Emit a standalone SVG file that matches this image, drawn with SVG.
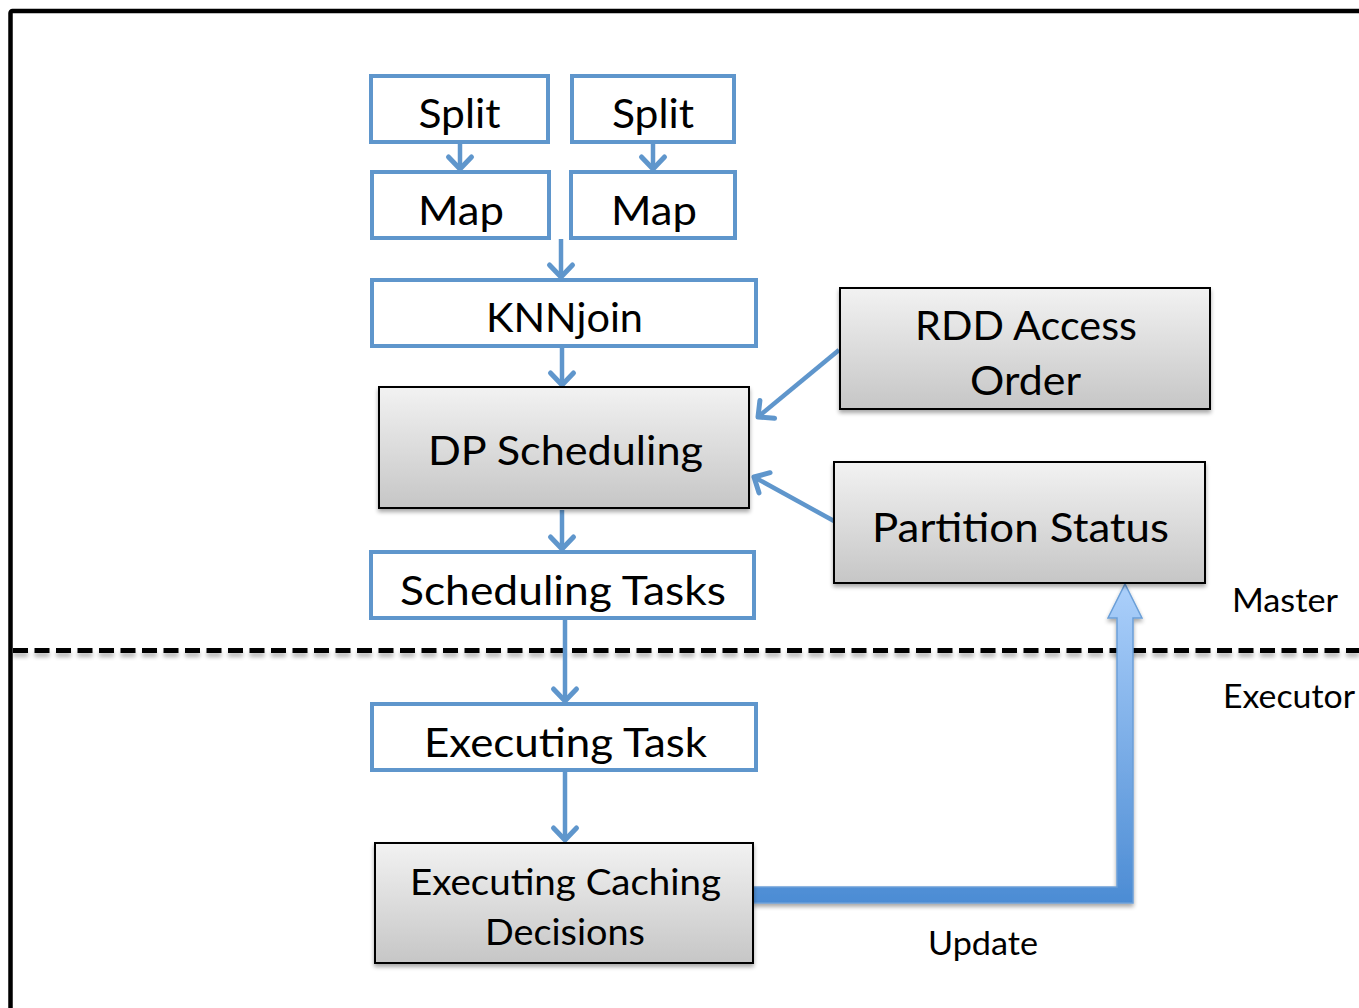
<svg xmlns="http://www.w3.org/2000/svg" width="1359" height="1008" viewBox="0 0 1359 1008">
  <defs>
    <style>
      .flow { fill: #ffffff; stroke: #5f96cc; stroke-width: 4; }
      .proc { fill: url(#grayFill); stroke: #000000; stroke-width: 2; filter: url(#shadow); }
      .lbl { font-family: Lato, "Open Sans", "Liberation Sans", sans-serif; font-size: 40px; fill: #000000; text-anchor: middle; }
      .side { font-family: Lato, "Open Sans", "Liberation Sans", sans-serif; font-size: 32px; fill: #000000; }
      .conn { fill: none; stroke: #5f96cc; stroke-width: 4.5; marker-end: url(#chev); }
    </style>
    <linearGradient id="grayFill" x1="0" y1="0" x2="0" y2="1">
      <stop offset="0" stop-color="#f2f2f2"/>
      <stop offset="1" stop-color="#c6c6c6"/>
    </linearGradient>
    <linearGradient id="updFill" gradientUnits="userSpaceOnUse" x1="0" y1="584" x2="0" y2="903">
      <stop offset="0" stop-color="#acd0fb"/>
      <stop offset="1" stop-color="#4c8cd4"/>
    </linearGradient>
    <filter id="shadow" x="-10%" y="-10%" width="120%" height="130%">
      <feGaussianBlur in="SourceAlpha" stdDeviation="2"/>
      <feOffset dx="0" dy="3" result="b"/>
      <feComponentTransfer><feFuncA type="linear" slope="0.35"/></feComponentTransfer>
      <feMerge><feMergeNode/><feMergeNode in="SourceGraphic"/></feMerge>
    </filter>
    <filter id="lineShadow" filterUnits="userSpaceOnUse" x="0" y="630" width="1359" height="40">
      <feGaussianBlur in="SourceAlpha" stdDeviation="2"/>
      <feOffset dx="0" dy="4" result="b"/>
      <feComponentTransfer><feFuncA type="linear" slope="0.3"/></feComponentTransfer>
      <feMerge><feMergeNode/><feMergeNode in="SourceGraphic"/></feMerge>
    </filter>
    <marker id="chev" markerUnits="userSpaceOnUse" markerWidth="32" markerHeight="32" viewBox="-16 -16 32 32" refX="0" refY="0" orient="auto">
      <path d="M -12 -11.5 L 0 0 L -12 11.5" fill="none" stroke="#5f96cc" stroke-width="5" stroke-linecap="round" stroke-linejoin="round"/>
    </marker>
  </defs>

  <rect width="1359" height="1008" fill="#ffffff"/>

  <!-- outer frame, open to the right and bottom -->
  <rect x="10.5" y="11" width="1400" height="1100" rx="2" fill="none" stroke="#000000" stroke-width="4.5"/>

  <!-- master / executor boundary -->
  <line x1="13" y1="650.5" x2="1359" y2="650.5" stroke="#000000" stroke-width="5" stroke-dasharray="15 6.5" filter="url(#lineShadow)"/>

  <!-- connectors -->
  <g id="connectors">
    <line class="conn" x1="460" y1="143" x2="460" y2="169"/>
    <line class="conn" x1="653" y1="143" x2="653" y2="169"/>
    <line class="conn" x1="561" y1="239" x2="561" y2="277"/>
    <line class="conn" x1="562" y1="347" x2="562" y2="385"/>
    <line class="conn" x1="839" y1="350" x2="758" y2="417"/>
    <line class="conn" x1="834" y1="521" x2="754" y2="477"/>
    <line class="conn" x1="562" y1="510" x2="562" y2="549"/>
    <line class="conn" x1="565" y1="620" x2="565" y2="701"/>
    <line class="conn" x1="565" y1="772" x2="565" y2="840"/>
    <g id="update-arrow">
      <polygon points="753,887 1117,887 1117,618 1108,618 1125,584 1142,618 1133,618 1133,903 753,903" fill="url(#updFill)" stroke="#6b9fd8" stroke-width="1.5" stroke-linejoin="miter" filter="url(#shadow)"/>
    </g>
  </g>

  <!-- nodes -->
  <g id="split-1">
    <rect class="flow" x="371" y="76" width="177" height="66"/>
    <text class="lbl" x="459.5" y="128" textLength="82" lengthAdjust="spacingAndGlyphs">Split</text>
  </g>
  <g id="split-2">
    <rect class="flow" x="572" y="76" width="162" height="66"/>
    <text class="lbl" x="653" y="128" textLength="82" lengthAdjust="spacingAndGlyphs">Split</text>
  </g>
  <g id="map-1">
    <rect class="flow" x="372" y="172" width="177" height="66"/>
    <text class="lbl" x="461" y="225" textLength="86" lengthAdjust="spacingAndGlyphs">Map</text>
  </g>
  <g id="map-2">
    <rect class="flow" x="571" y="172" width="164" height="66"/>
    <text class="lbl" x="654" y="225" textLength="86" lengthAdjust="spacingAndGlyphs">Map</text>
  </g>
  <g id="knnjoin">
    <rect class="flow" x="372" y="280" width="384" height="66"/>
    <text class="lbl" x="564.5" y="332" textLength="157" lengthAdjust="spacingAndGlyphs">KNNjoin</text>
  </g>
  <g id="dp-scheduling">
    <rect class="proc" x="379" y="387" width="370" height="121"/>
    <text class="lbl" x="565.5" y="465" textLength="275" lengthAdjust="spacingAndGlyphs">DP Scheduling</text>
  </g>
  <g id="rdd-access-order">
    <rect class="proc" x="840" y="288" width="370" height="121"/>
    <text class="lbl" x="1026" y="340" textLength="222" lengthAdjust="spacingAndGlyphs">RDD Access</text>
    <text class="lbl" x="1025.5" y="395" textLength="111" lengthAdjust="spacingAndGlyphs">Order</text>
  </g>
  <g id="partition-status">
    <rect class="proc" x="834" y="462" width="371" height="121"/>
    <text class="lbl" x="1020.5" y="542" textLength="297" lengthAdjust="spacingAndGlyphs">Partition Status</text>
  </g>
  <g id="scheduling-tasks">
    <rect class="flow" x="371" y="552" width="383" height="66"/>
    <text class="lbl" x="563" y="605" textLength="326" lengthAdjust="spacingAndGlyphs">Scheduling Tasks</text>
  </g>
  <g id="executing-task">
    <rect class="flow" x="372" y="704" width="384" height="66"/>
    <text class="lbl" x="565.5" y="757" textLength="283" lengthAdjust="spacingAndGlyphs">Executing Task</text>
  </g>
  <g id="executing-caching">
    <rect class="proc" x="375" y="843" width="378" height="120"/>
    <text class="lbl" x="565.5" y="895" textLength="311" lengthAdjust="spacingAndGlyphs" style="font-size:37px">Executing Caching</text>
    <text class="lbl" x="565" y="945" textLength="160" lengthAdjust="spacingAndGlyphs" style="font-size:37px">Decisions</text>
  </g>

  <!-- region and flow labels -->
  <g id="labels">
    <text class="side" x="1232" y="612" textLength="106" lengthAdjust="spacingAndGlyphs">Master</text>
    <text class="side" x="1223" y="708" textLength="132" lengthAdjust="spacingAndGlyphs">Executor</text>
    <text class="side" x="928" y="955" textLength="110" lengthAdjust="spacingAndGlyphs">Update</text>
  </g>
</svg>
